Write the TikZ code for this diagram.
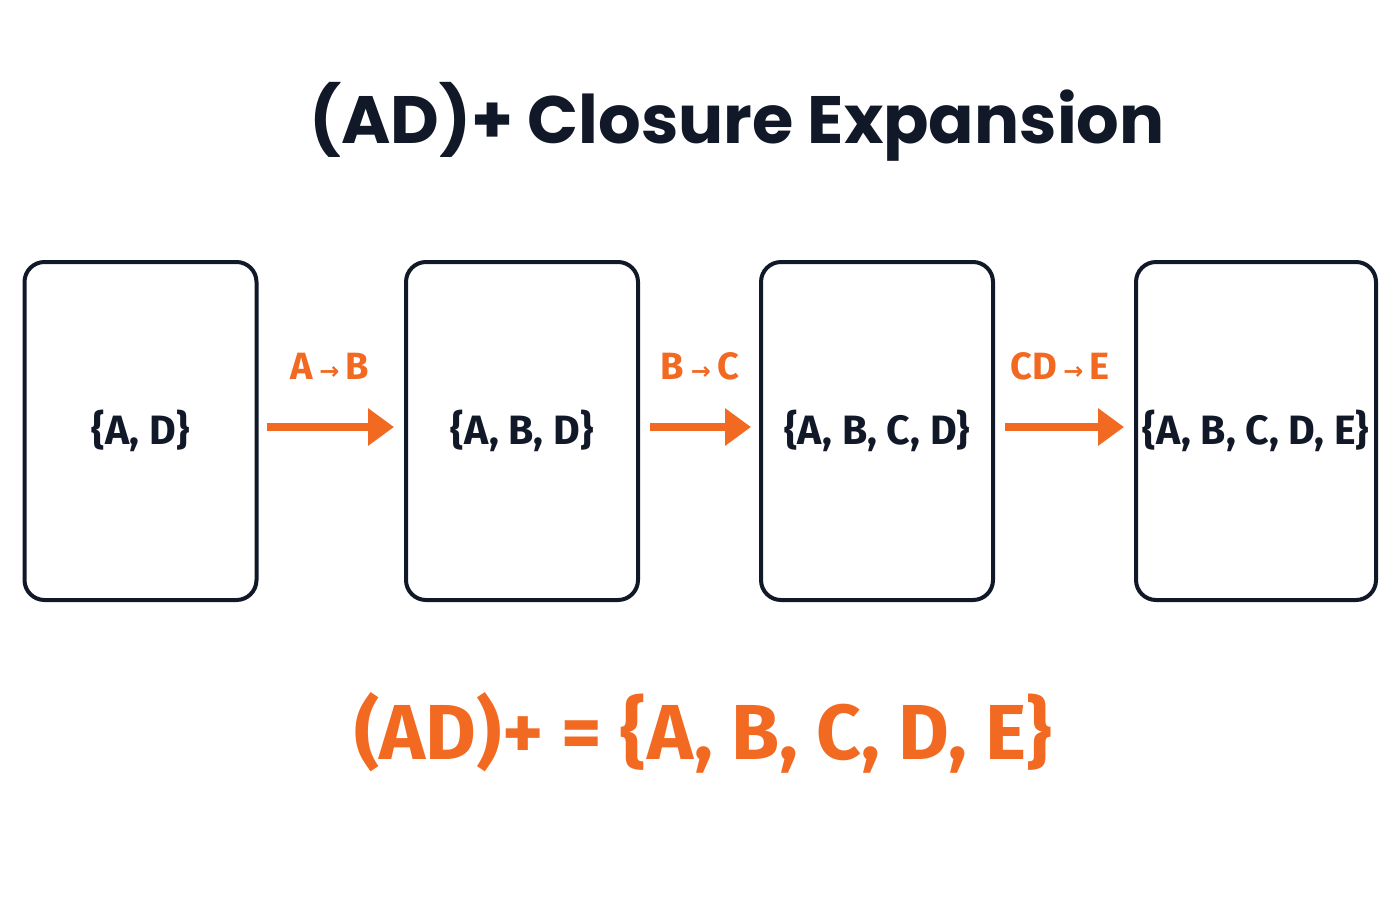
\documentclass[tikz,border=0pt]{standalone}
\usepackage{fontspec}
\setmainfont{Fira Sans}
\newfontfamily\titlefont{Poppins}
\newfontfamily\symfont{DejaVu Sans}
\usetikzlibrary{arrows.meta}
\definecolor{ink}{HTML}{111827}
\definecolor{org}{HTML}{F26A21}
\begin{document}
\begin{tikzpicture}[x=0.5pt,y=-0.5pt,
  box/.style={draw=ink,line width=2pt,rounded corners=10pt,minimum width=116pt,minimum height=169pt,inner sep=0pt,font=\fontsize{20.5}{24}\selectfont\bfseries,text=ink},
  arr/.style={draw=org,line width=3.6pt,-{Triangle[length=13pt,width=18pt]}},
  lab/.style={text=org,font=\fontsize{19}{21}\selectfont\bfseries}]
\useasboundingbox[fill=white] (0,0) rectangle (1400,900);
\node[text=ink,font=\titlefont\fontsize{33.5}{38}\selectfont\bfseries] (title) at (737,122) {(AD)+ Closure Expansion};
\node[box] (b1) at (140.5,431) {\{A, D\}};
\node[box] (b2) at (522,431) {\{A, B, D\}};
\node[box] (b3) at (877,431) {\{A, B, C, D\}};
\node[box,minimum width=120pt] (b4) at (1256,431) {\{A, B, C, D, E\}};
\draw[arr] ([xshift=4pt,yshift=2pt]b1.east) -- ([xshift=-5pt,yshift=2pt]b2.west);
\draw[arr] ([xshift=5pt,yshift=2pt]b2.east) -- ([xshift=-4pt,yshift=2pt]b3.west);
\draw[arr] ([xshift=5pt,yshift=2pt]b3.east) -- ([xshift=-5pt,yshift=2pt]b4.west);
\node[lab] (l1) at (330,366) {A\,{\symfont\fontsize{12}{14}\selectfont→}\,B};
\node[lab] (l2) at (700,366) {B\,{\symfont\fontsize{12}{14}\selectfont→}\,C};
\node[lab] (l3) at (1060,366) {CD\,{\symfont\fontsize{12}{14}\selectfont→}\,E};
\node[text=org,font=\fontsize{39}{42}\selectfont\bfseries] (res) at (703,733) {(AD)+ = \{A, B, C, D, E\}};
\end{tikzpicture}
\end{document}
